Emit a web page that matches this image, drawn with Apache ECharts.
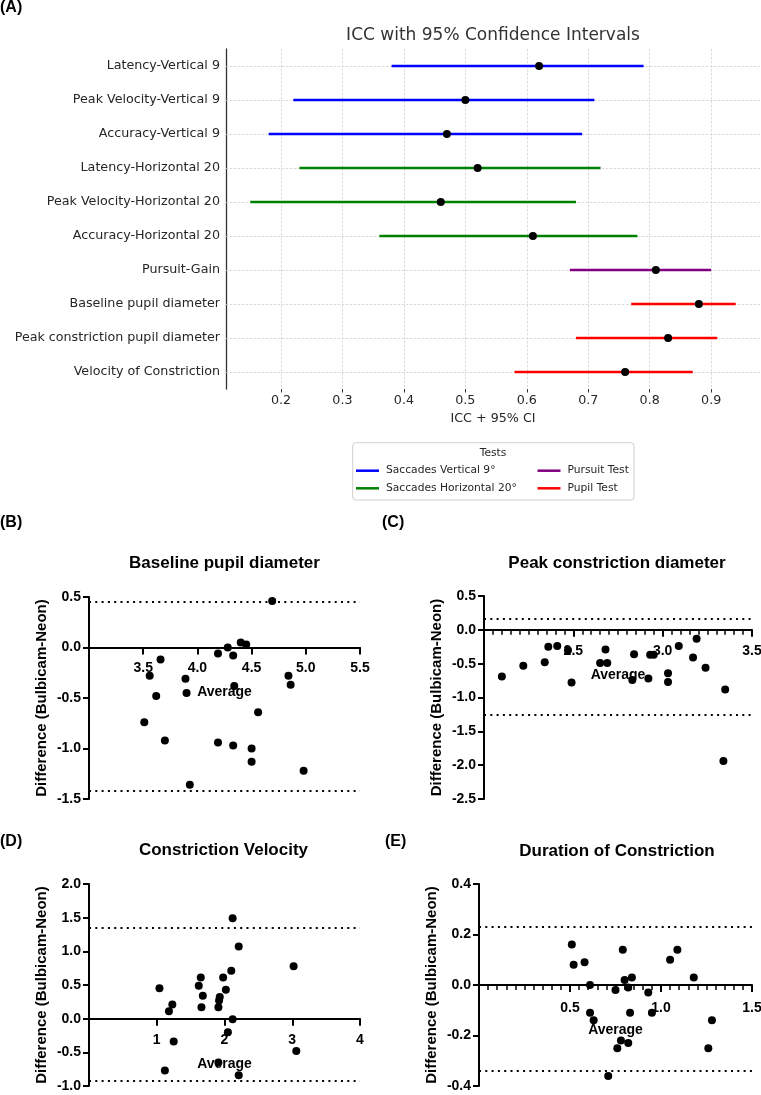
<!DOCTYPE html>
<html>
<head>
<meta charset="utf-8">
<script src="https://cdn.jsdelivr.net/npm/echarts@6/dist/echarts.min.js"></script>
<style>
  html, body { margin: 0; padding: 0; background: #fff; }
  #chart { width: 761px; height: 1095px; }
</style>
</head>
<body>
<div id="chart"></div>
<script>
// (A) ICC with 95% CI
var metrics = ['Latency-Vertical 9', 'Peak Velocity-Vertical 9', 'Accuracy-Vertical 9',
  'Latency-Horizontal 20', 'Peak Velocity-Horizontal 20', 'Accuracy-Horizontal 20',
  'Pursuit-Gain', 'Baseline pupil diameter', 'Peak constriction pupil diameter', 'Velocity of Constriction']
var icc = [0.62, 0.50, 0.47, 0.52, 0.46, 0.61, 0.81, 0.88, 0.83, 0.76]
var ciLow = [0.38, 0.22, 0.18, 0.23, 0.15, 0.36, 0.67, 0.77, 0.68, 0.58]
var ciHigh = [0.79, 0.71, 0.69, 0.72, 0.68, 0.78, 0.90, 0.94, 0.91, 0.87]
var testOf = [0, 0, 0, 1, 1, 1, 2, 3, 3, 3]
var tests = ['Saccades Vertical 9°', 'Saccades Horizontal 20°', 'Pursuit Test', 'Pupil Test']
var testColors = ['#0000ff', '#008000', '#800080', '#ff0000']
var iccTicks = [0.2, 0.3, 0.4, 0.5, 0.6, 0.7, 0.8, 0.9]

// (B) Baseline pupil diameter
var baseAvg = [4.69, 4.28, 4.40, 4.45, 4.19, 4.33, 3.66, 3.56, 3.89, 3.90, 4.34, 3.62, 4.84, 4.86, 4.56, 3.51, 3.70, 4.19, 4.33, 4.50, 4.50, 4.98, 3.93]
var baseDiff = [0.46, 0.00, 0.05, 0.03, -0.06, -0.08, -0.12, -0.28, -0.31, -0.45, -0.38, -0.48, -0.28, -0.37, -0.64, -0.74, -0.92, -0.94, -0.97, -1.00, -1.13, -1.22, -1.36]
var baseLoA = [0.45, -1.42]

// (C) Peak constriction diameter
var peakAvg = [2.10, 2.22, 2.34, 2.36, 2.41, 2.47, 2.49, 2.65, 2.69, 2.68, 2.84, 2.83, 2.92, 2.93, 2.95, 3.03, 3.03, 3.09, 3.17, 3.19, 3.24, 3.35, 3.34]
var peakDiff = [-0.69, -0.53, -0.48, -0.25, -0.24, -0.30, -0.78, -0.49, -0.49, -0.29, -0.36, -0.74, -0.72, -0.37, -0.37, -0.64, -0.77, -0.24, -0.41, -0.13, -0.56, -0.88, -1.94]
var peakLoA = [0.16, -1.26]

// (D) Constriction Velocity
var velAvg = [1.04, 1.18, 1.23, 1.25, 1.12, 1.62, 1.65, 1.68, 1.66, 1.91, 1.93, 1.92, 1.98, 2.02, 2.10, 2.12, 2.21, 2.12, 2.05, 1.91, 2.21, 3.02, 3.06]
var velDiff = [0.45, 0.11, 0.21, -0.34, -0.77, 0.49, 0.61, 0.34, 0.17, 0.17, 0.32, 0.27, 0.61, 0.43, 0.71, 1.49, 1.07, -0.01, -0.20, -0.65, -0.84, 0.78, -0.48]
var velLoA = [1.35, -0.92]

// (E) Duration of Constriction
var durAvg = [0.51, 0.52, 0.58, 0.61, 0.61, 0.63, 0.75, 0.79, 0.80, 0.84, 0.82, 0.83, 0.78, 0.76, 0.82, 0.71, 0.93, 0.95, 1.05, 1.09, 1.18, 1.26, 1.28]
var durDiff = [0.16, 0.08, 0.09, 0.00, -0.11, -0.14, -0.02, 0.14, 0.02, 0.03, -0.01, -0.11, -0.22, -0.25, -0.23, -0.36, -0.03, -0.11, 0.10, 0.14, 0.03, -0.25, -0.14]
var durLoA = [0.23, -0.34]

var fontA = 'DejaVu Sans'
var fontB = 'Liberation Sans, Arial, sans-serif'
var textA = '#262626'

function zip(xs, ys) {
  return xs.map(function (x, i) { return [x, ys[i]] })
}

function renderCI(params, api) {
  var p1 = api.coord([api.value(0), api.value(2)])
  var p2 = api.coord([api.value(1), api.value(2)])
  return {
    type: 'line',
    shape: { x1: p1[0], y1: p1[1], x2: p2[0], y2: p2[1] },
    style: { stroke: api.visual('color'), lineWidth: 2.4 }
  }
}

var chart = echarts.init(document.getElementById('chart'), null, { renderer: 'canvas' })

var grids = [
  { left: 226, top: 49, width: 534, height: 340 },
  { left: 89, top: 597, width: 271, height: 202 },
  { left: 484, top: 596, width: 268, height: 203 },
  { left: 89, top: 884, width: 271, height: 202 },
  { left: 479, top: 884, width: 273, height: 202 }
].map(function (g) { g.outerBoundsMode = 'none'; return g })

var xAxes = [{
  gridIndex: 0, type: 'value', min: 0.1105, max: 0.9795,
  name: 'ICC + 95% CI', nameLocation: 'middle', nameGap: 23,
  nameTextStyle: { fontFamily: fontA, fontSize: 12.7, color: textA },
  axisLine: { onZero: false, lineStyle: { color: '#333', width: 1.3 } },
  axisTick: { show: true, length: 3.5, customValues: iccTicks, lineStyle: { color: '#333' } },
  axisLabel: { customValues: iccTicks, margin: 5, fontFamily: fontA, fontSize: 12.7, color: textA,
    formatter: function (v) { return v.toFixed(1) } },
  splitLine: { show: false }
}]
var yAxes = [{
  gridIndex: 0, type: 'category', data: metrics, inverse: true,
  axisLine: { onZero: false, lineStyle: { color: '#333', width: 1.3 } },
  axisTick: { alignWithLabel: true, length: 3.5, lineStyle: { color: '#333' } },
  axisLabel: { margin: 6, fontFamily: fontA, fontSize: 12.7, color: textA },
  splitLine: { show: false }
}]

// Bland-Altman axes: x axis sits on the zero line of the difference axis
function baAxes(gi, xMin, xMax, xStep, yMin, yMax, yStep, minor, xDigits, labelGap) {
  var bold = { fontFamily: fontB, fontWeight: 'bold', color: '#000' }
  var zeroShift = -grids[gi].height * (0 - yMin) / (yMax - yMin)
  xAxes.push({
    gridIndex: gi, type: 'value', min: xMin, max: xMax, interval: xStep,
    position: 'bottom', offset: zeroShift,
    name: 'Average', nameLocation: 'middle', nameGap: 38,
    nameTextStyle: Object.assign({ fontSize: 14 }, bold),
    axisLine: { onZero: false, lineStyle: { color: '#000', width: 2 } },
    axisTick: { length: 7, lineStyle: { color: '#000', width: 2 } },
    minorTick: { show: minor, splitNumber: 10, length: 5, lineStyle: { color: '#000', width: 1.5 } },
    axisLabel: Object.assign({ showMinLabel: false, margin: labelGap, fontSize: 14,
      formatter: function (v) { return v.toFixed(xDigits) } }, bold),
    splitLine: { show: false }
  })
  yAxes.push({
    gridIndex: gi, type: 'value', min: yMin, max: yMax, interval: yStep,
    name: 'Difference (Bulbicam-Neon)', nameLocation: 'middle', nameGap: 40,
    nameTextStyle: Object.assign({ fontSize: 15 }, bold),
    axisLine: { onZero: false, lineStyle: { color: '#000', width: 2 } },
    axisTick: { length: 6, lineStyle: { color: '#000', width: 2 } },
    axisLabel: Object.assign({ margin: 8, fontSize: 14,
      formatter: function (v) { return v.toFixed(1) } }, bold),
    splitLine: { show: false }
  })
}
baAxes(1, 3.0, 5.5, 0.5, -1.5, 0.5, 0.5, false, 1, 14)
baAxes(2, 2.0, 3.5, 0.5, -2.5, 0.5, 0.5, true, 1, 14)
baAxes(3, 0, 4, 1, -1.0, 2.0, 0.5, false, 0, 14)
baAxes(4, 0, 1.5, 0.5, -0.4, 0.4, 0.2, true, 1, 16)

var series = []

// grid lines for panel A
series.push({
  type: 'scatter', xAxisIndex: 0, yAxisIndex: 0, data: [], z: 1, silent: true,
  markLine: {
    z: 1, symbol: 'none', silent: true, label: { show: false },
    lineStyle: { color: '#d2d2d2', type: [2.5, 1.5], width: 0.8 },
    data: iccTicks.map(function (v) { return { xAxis: v } })
      .concat(metrics.map(function (m) { return { yAxis: m } }))
  }
})

tests.forEach(function (t, k) {
  var rows = []
  metrics.forEach(function (m, i) {
    if (testOf[i] === k) rows.push([ciLow[i], ciHigh[i], i])
  })
  series.push({
    type: 'custom', name: t, xAxisIndex: 0, yAxisIndex: 0, z: 3,
    itemStyle: { color: testColors[k] },
    encode: { x: [0, 1], y: 2 },
    renderItem: renderCI,
    data: rows
  })
})

series.push({
  type: 'scatter', name: 'ICC', xAxisIndex: 0, yAxisIndex: 0, z: 4,
  symbolSize: 8, itemStyle: { color: '#000', opacity: 1 },
  data: icc.map(function (v, i) { return [v, i] })
})

function baSeries(gi, avg, diff, loa) {
  series.push({
    type: 'scatter', xAxisIndex: gi, yAxisIndex: gi, z: 4,
    symbolSize: 8, itemStyle: { color: '#000', opacity: 1 },
    data: zip(avg, diff),
    markLine: {
      z: 2, symbol: 'none', silent: true, label: { show: false },
      lineStyle: { color: '#000', type: [2, 4.3], width: 2 },
      data: loa.map(function (v) { return { yAxis: v } })
    }
  })
}
baSeries(1, baseAvg, baseDiff, baseLoA)
baSeries(2, peakAvg, peakDiff, peakLoA)
baSeries(3, velAvg, velDiff, velLoA)
baSeries(4, durAvg, durDiff, durLoA)

var legends = tests.map(function (t, k) {
  return {
    data: [{ name: t, icon: 'rect' }],
    left: k < 2 ? 356 : 537.5,
    top: (k % 2 === 0 ? 471.7 : 489.3) - 6.5,
    itemWidth: 23, itemHeight: 2.5, itemGap: 0, padding: 0, selectedMode: false,
    textStyle: { fontFamily: fontA, fontSize: 10.7, color: textA, padding: [0, 0, 0, 2] }
  }
})

function label(text, x, y, size, font, weight, color, align) {
  return {
    type: 'text', x: x, y: y, silent: true,
    style: { text: text, fontFamily: font, fontSize: size, fontWeight: weight || 'normal',
      fill: color || '#000', align: align || 'left', verticalAlign: 'middle' }
  }
}

var graphics = [
  { type: 'rect', shape: { x: 352.7, y: 442.7, width: 281.3, height: 57.3, r: 3 },
    style: { fill: '#fff', stroke: '#d0d0d0', lineWidth: 1 }, z: -1, silent: true },
  label('Tests', 493, 453, 10.7, fontA, 'normal', textA, 'center'),
  label('ICC with 95% Confidence Intervals', 493, 36, 17, fontA, 'normal', '#333', 'center'),
  label('(A)', 0, 8, 16, fontB, 'bold'),
  label('(B)', 0, 523, 16, fontB, 'bold'),
  label('(C)', 382, 523, 16, fontB, 'bold'),
  label('(D)', 0, 842, 16, fontB, 'bold'),
  label('(E)', 385, 842, 16, fontB, 'bold'),
  label('Baseline pupil diameter', 224.5, 563, 17, fontB, 'bold', '#000', 'center'),
  label('Peak constriction diameter', 617, 563, 17, fontB, 'bold', '#000', 'center'),
  label('Constriction Velocity', 223.5, 850, 17, fontB, 'bold', '#000', 'center'),
  label('Duration of Constriction', 617, 851, 17, fontB, 'bold', '#000', 'center')
]

chart.setOption({
  animation: false,
  backgroundColor: '#fff',
  grid: grids,
  xAxis: xAxes,
  yAxis: yAxes,
  legend: legends,
  graphic: graphics,
  series: series
})
</script>
</body>
</html>
